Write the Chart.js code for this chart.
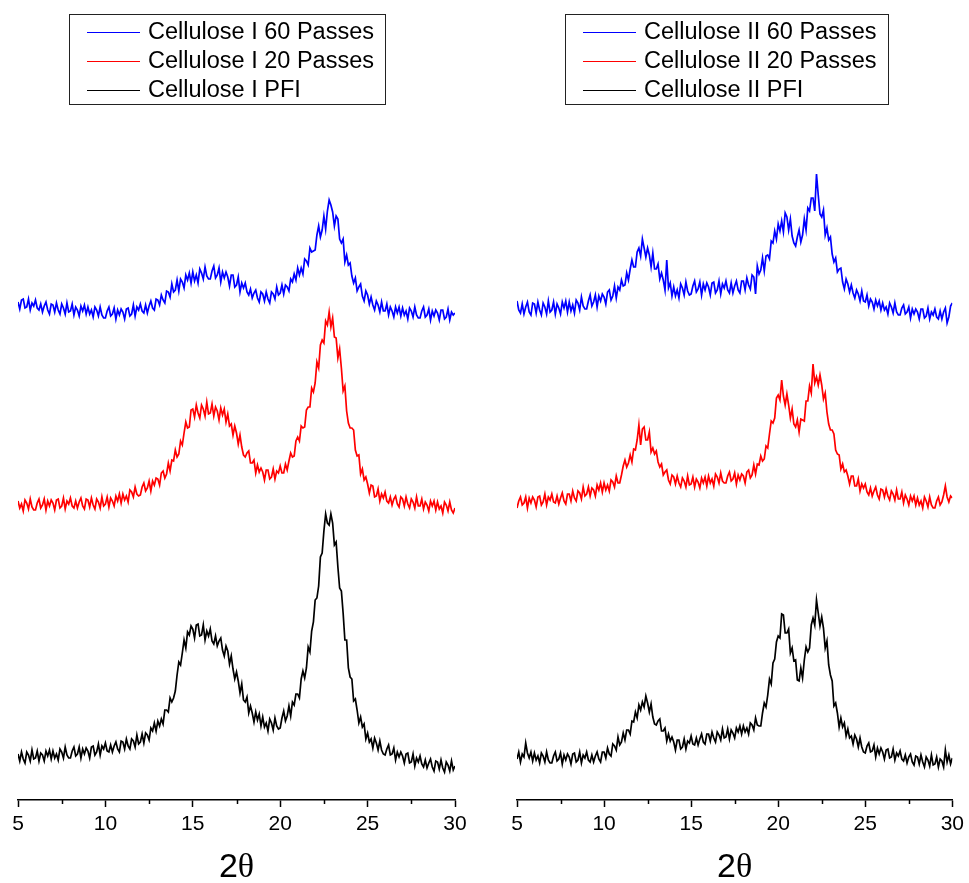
<!DOCTYPE html>
<html>
<head>
<meta charset="utf-8">
<title>XRD Cellulose I / II</title>
<script src="https://cdn.jsdelivr.net/npm/chart.js@4.4.1/dist/chart.umd.min.js"></script>
<style>
  html, body { margin: 0; padding: 0; background: #fff; }
  #wrap { position: relative; width: 969px; height: 883px; }
  canvas { position: absolute; top: 0; }
</style>
</head>
<body>
<div id="wrap">
  <canvas id="chartI" width="485" height="883" style="left:0px"></canvas>
  <canvas id="chartII" width="484" height="883" style="left:485px"></canvas>
</div>
<script>
// 2θ grid of the scans (degrees)
const twoThetaStart = 5, twoThetaStep = 0.1;

// intensities (a.u., curves already shifted vertically), one row per degree
const celluloseI_60 = [
  498,491,500,501,492,493,501,490,497,494,
  500,492,490,496,488,494,498,490,486,496,
  495,488,497,490,486,496,492,486,497,488,
  489,496,485,493,490,484,494,489,495,486,
  493,486,490,483,493,490,484,493,485,482,
  482,489,493,484,486,492,481,490,485,491,
  488,481,491,492,484,486,495,484,493,490,
  496,489,487,495,487,494,499,492,490,501,
  500,495,505,500,497,509,508,503,516,508,
  510,520,509,521,518,512,525,520,527,517,
  528,519,525,517,531,527,521,533,524,521,
  521,529,534,522,525,532,518,528,522,528,
  523,514,525,525,513,515,523,508,517,512,
  517,508,505,511,502,507,510,502,498,508,
  506,499,508,501,497,508,506,501,513,505,
  507,515,506,515,513,509,521,518,526,520,
  532,525,532,526,541,539,535,552,548,549,
  550,565,574,563,570,584,571,589,600,595,
  588,574,584,581,561,557,561,538,545,535,
  537,524,517,522,509,513,516,504,499,509,
  505,496,503,495,490,499,495,488,498,489,
  489,496,485,493,489,483,493,487,493,484,
  492,485,489,481,492,489,483,493,485,482,
  482,489,493,483,485,491,480,489,484,490,
  487,480,490,490,481,483,491,480,488,485,
  487
];
const celluloseI_20 = [
  299,292,296,289,300,297,291,301,293,290,
  290,297,301,292,295,301,290,299,294,300,
  297,290,300,301,292,294,302,291,299,296,
  302,294,292,299,292,298,302,294,291,301,
  300,293,302,295,291,301,298,292,303,294,
  296,303,293,302,299,294,304,299,306,297,
  306,300,304,298,310,308,303,313,306,304,
  305,313,317,309,312,319,309,319,315,322,
  321,315,327,329,322,326,337,329,340,339,
  350,343,346,359,355,367,378,372,373,390,
  391,383,395,387,382,395,391,384,398,386,
  387,396,384,393,389,380,392,385,391,378,
  386,374,376,365,374,367,356,365,353,345,
  343,347,349,337,337,340,327,335,328,332,
  328,320,330,330,321,323,331,321,329,327,
  334,327,327,336,330,339,347,343,344,359,
  363,359,374,372,373,390,393,393,412,408,
  417,438,432,455,460,457,479,475,488,473,
  482,463,462,442,451,432,409,414,389,377,
  372,372,370,350,344,345,326,331,320,323,
  316,307,315,314,303,304,311,299,306,302,
  308,299,297,303,295,301,304,296,293,303,
  301,294,303,296,292,301,298,292,303,294,
  294,301,291,298,295,289,299,294,299,290,
  298,291,294,287,298,295,289,298,290,287,
  292
];
const celluloseI_PFI = [
  46,39,48,41,37,48,45,39,50,41,
  42,49,39,47,45,39,49,44,50,41,
  49,42,46,40,51,48,42,53,45,42,
  42,49,53,44,46,53,42,51,46,52,
  49,42,53,54,45,48,56,45,54,51,
  57,49,48,55,48,54,58,51,48,59,
  58,51,61,54,51,61,59,53,65,56,
  58,66,57,67,65,60,72,69,77,69,
  79,74,81,76,90,90,88,102,98,102,
  109,125,138,135,147,160,152,168,165,174,
  171,162,175,176,164,165,175,160,169,164,
  171,159,156,164,154,159,162,150,144,154,
  149,136,144,131,121,128,119,107,116,100,
  98,103,87,94,87,78,88,80,86,74,
  83,73,77,69,81,77,70,82,74,71,
  72,82,89,79,84,94,84,98,95,106,
  106,102,121,129,122,132,153,148,169,178,
  200,202,214,243,247,269,286,277,275,286,
  277,255,258,233,212,209,187,160,160,132,
  123,121,99,101,90,77,83,73,76,61,
  67,58,61,52,62,57,50,59,50,46,
  45,51,55,45,46,52,40,48,43,48,
  44,37,46,47,37,38,46,34,42,38,
  44,36,33,40,32,37,41,33,29,39,
  38,31,40,32,28,38,35,29,39,30,
  34
];
const celluloseII_60 = [
  499,490,487,496,486,493,498,488,485,497,
  496,487,498,490,485,497,493,486,499,488,
  490,498,486,496,492,486,498,492,499,488,
  498,489,495,487,500,497,490,503,494,491,
  491,499,505,494,498,505,493,504,499,506,
  503,496,508,510,500,504,514,502,513,510,
  520,514,515,527,520,531,540,533,533,548,
  552,544,561,552,543,552,545,533,547,531,
  531,536,521,527,520,510,540,512,517,504,
  513,504,510,502,516,512,505,518,509,505,
  506,514,519,508,511,518,505,516,510,517,
  513,505,517,518,507,510,519,506,516,512,
  519,510,507,517,507,514,519,510,507,519,
  519,510,522,515,511,525,523,506,534,526,
  530,542,529,544,545,541,559,557,569,561,
  576,569,579,568,587,583,570,581,564,557,
  554,563,570,558,565,581,570,592,589,602,
  602,589,626,605,586,583,590,565,572,560,
  563,546,538,542,528,531,532,518,511,521,
  516,508,515,507,502,510,506,499,509,499,
  498,505,494,501,498,491,500,494,499,490,
  497,490,493,486,497,493,487,497,488,485,
  485,492,495,486,488,493,482,491,486,491,
  488,481,491,491,482,484,492,481,488,485,
  491,483,481,489,481,488,492,477,483,494,
  497
];
const celluloseII_20 = [
  292,299,303,295,297,303,292,302,297,303,
  300,293,303,304,295,298,306,295,303,300,
  306,298,297,304,296,302,307,299,296,306,
  306,299,309,302,299,309,307,301,313,304,
  306,313,304,312,310,304,315,310,317,308,
  317,310,315,309,320,318,313,324,317,317,
  325,334,340,333,337,345,338,351,350,360,
  375,355,371,373,360,360,368,348,352,346,
  349,338,333,336,325,328,330,320,316,325,
  323,316,324,317,313,322,319,313,324,315,
  316,323,313,321,318,312,322,317,323,314,
  324,317,321,314,326,323,317,327,319,317,
  317,324,328,319,321,327,316,325,320,326,
  324,317,328,330,322,325,335,326,336,335,
  344,339,341,354,352,366,379,377,382,402,
  405,400,420,404,395,406,395,382,391,376,
  373,380,368,381,380,379,399,399,414,407,
  436,417,423,415,425,415,401,407,388,376,
  370,370,366,350,346,345,331,336,328,330,
  324,316,324,324,314,314,321,309,316,312,
  316,308,305,312,304,309,313,305,301,311,
  310,303,311,304,300,309,306,300,310,301,
  301,308,297,305,301,295,304,299,304,295,
  302,295,299,292,303,299,293,303,295,292,
  292,299,303,295,298,305,314,303,298,304,
  302
];
const celluloseII_PFI = [
  41,48,38,46,43,57,47,42,48,39,
  47,40,44,37,47,44,38,48,40,37,
  37,44,48,39,41,47,36,45,40,46,
  43,36,46,47,38,40,48,37,45,42,
  48,40,38,45,38,44,48,41,38,48,
  48,42,52,46,44,56,54,50,63,55,
  58,67,60,70,70,66,79,78,88,82,
  95,90,98,93,104,97,88,96,83,76,
  75,79,81,69,69,72,59,66,59,63,
  58,50,60,60,51,53,61,51,59,57,
  64,56,55,62,55,61,66,58,56,66,
  66,59,68,62,58,68,65,60,71,62,
  63,71,61,70,67,62,72,68,74,66,
  74,68,72,66,77,75,70,82,75,74,
  74,87,97,93,105,121,116,137,141,158,
  164,162,186,185,167,167,171,147,152,139,
  140,120,119,132,122,140,153,148,152,175,
  182,175,200,187,174,183,172,152,159,135,
  125,119,94,97,87,73,82,73,77,64,
  71,62,64,56,65,61,53,62,53,48,
  47,54,57,48,49,55,43,52,46,52,
  48,41,50,51,42,43,51,40,47,44,
  49,41,39,45,37,43,46,38,35,44,
  43,36,45,38,33,43,40,34,45,35,
  36,43,33,41,39,33,50,38,45,36,
  42
];

const labelsI = ['Cellulose I 60 Passes', 'Cellulose I 20 Passes', 'Cellulose I PFI'];
const labelsII = ['Cellulose II 60 Passes', 'Cellulose II 20 Passes', 'Cellulose II PFI'];
const seriesColors = ['#0000ff', '#ff0000', '#000000'];
const xMinorTicks = [7.5, 12.5, 17.5, 22.5, 27.5];
const axisTitle = ['2', 'θ'];

const twoTheta = celluloseI_60.map((_, i) => +(twoThetaStart + i * twoThetaStep).toFixed(1));

const FONT_SANS = '"Liberation Sans", Arial, sans-serif';
const FONT_SERIF = '"Liberation Serif", "Times New Roman", serif';

// ticks secundarios (sin etiqueta), mas cortos
const minorTicks = {
  id: 'minorTicks',
  afterDraw(chart) {
    const sx = chart.scales.x, ctx = chart.ctx;
    ctx.save();
    ctx.strokeStyle = '#000';
    ctx.lineWidth = 1.5;
    xMinorTicks.forEach(v => {
      const px = Math.round(sx.getPixelForValue(v)) + 0.5;
      ctx.beginPath();
      ctx.moveTo(px, sx.top);
      ctx.lineTo(px, sx.top + 4);
      ctx.stroke();
    });
    ctx.restore();
  }
};

// titulo del eje: "2" sans + theta serif
const thetaTitle = {
  id: 'thetaTitle',
  afterDraw(chart) {
    const ctx = chart.ctx, a = chart.chartArea;
    const f1 = '34px ' + FONT_SANS, f2 = '34px ' + FONT_SERIF;
    ctx.save();
    ctx.fillStyle = '#000';
    ctx.textBaseline = 'alphabetic';
    ctx.font = f1; const w1 = ctx.measureText(axisTitle[0]).width;
    ctx.font = f2; const w2 = ctx.measureText(axisTitle[1]).width;
    const x = (a.left + a.right) / 2 - (w1 + w2) / 2;
    ctx.font = f1; ctx.fillText(axisTitle[0], x, 877);
    ctx.font = f2; ctx.fillText(axisTitle[1], x + w1, 877);
    ctx.restore();
  }
};

// leyenda con marco
const boxLegend = {
  id: 'boxLegend',
  afterDraw(chart, args, opts) {
    const ctx = chart.ctx;
    const sets = chart.data.datasets;
    ctx.save();
    ctx.font = '23.5px ' + FONT_SANS;
    const textW = Math.max(...sets.map(d => ctx.measureText(d.label).width));
    const x0 = opts.x, y0 = 14.5;
    const w = Math.round(opts.textX - x0 + textW + 12);
    ctx.strokeStyle = '#222';
    ctx.lineWidth = 1;
    ctx.strokeRect(x0, y0, w, 90);
    ctx.textBaseline = 'middle';
    ctx.textAlign = 'left';
    sets.forEach((d, i) => {
      const y = 32 + i * 29;
      ctx.strokeStyle = d.borderColor;
      ctx.beginPath();
      ctx.moveTo(opts.lineX0, y + 0.5);
      ctx.lineTo(opts.lineX1, y + 0.5);
      ctx.stroke();
      ctx.fillStyle = '#000';
      ctx.fillText(d.label, opts.textX, y + 1);
    });
    ctx.restore();
  }
};

function makeChart(id, seriesList, labels, pad, legendPos) {
  return new Chart(document.getElementById(id), {
    type: 'line',
    data: {
      datasets: seriesList.map((vals, k) => ({
        label: labels[k],
        data: twoTheta.map((x, i) => ({ x: x, y: vals[i] })),
        borderColor: seriesColors[k],
        borderWidth: 1.7,
        pointRadius: 0,
        tension: 0,
        fill: false
      }))
    },
    options: {
      responsive: false,
      animation: false,
      layout: { padding: { top: 100, bottom: 0, left: pad.left, right: pad.right } },
      scales: {
        x: {
          type: 'linear',
          min: 5,
          max: 30,
          afterFit: (scale) => { scale.height = 83; },
          border: { display: true, color: '#000', width: 1.5 },
          grid: { drawOnChartArea: false, drawTicks: true, tickLength: 7, tickColor: '#000', tickWidth: 1.5 },
          ticks: { stepSize: 5, color: '#000', padding: 5, maxRotation: 0, autoSkip: false,
                   font: { family: FONT_SANS, size: 21 } }
        },
        y: { display: false, min: 0, max: 700 }
      },
      plugins: {
        legend: { display: false },
        tooltip: { enabled: false },
        boxLegend: legendPos
      }
    },
    plugins: [minorTicks, thetaTitle, boxLegend]
  });
}

makeChart('chartI', [celluloseI_60, celluloseI_20, celluloseI_PFI], labelsI,
  { left: 18, right: 30 }, { x: 69.5, lineX0: 87, lineX1: 140, textX: 148 });
makeChart('chartII', [celluloseII_60, celluloseII_20, celluloseII_PFI], labelsII,
  { left: 32, right: 16 }, { x: 80.5, lineX0: 98, lineX1: 151, textX: 159 });
</script>
</body>
</html>
